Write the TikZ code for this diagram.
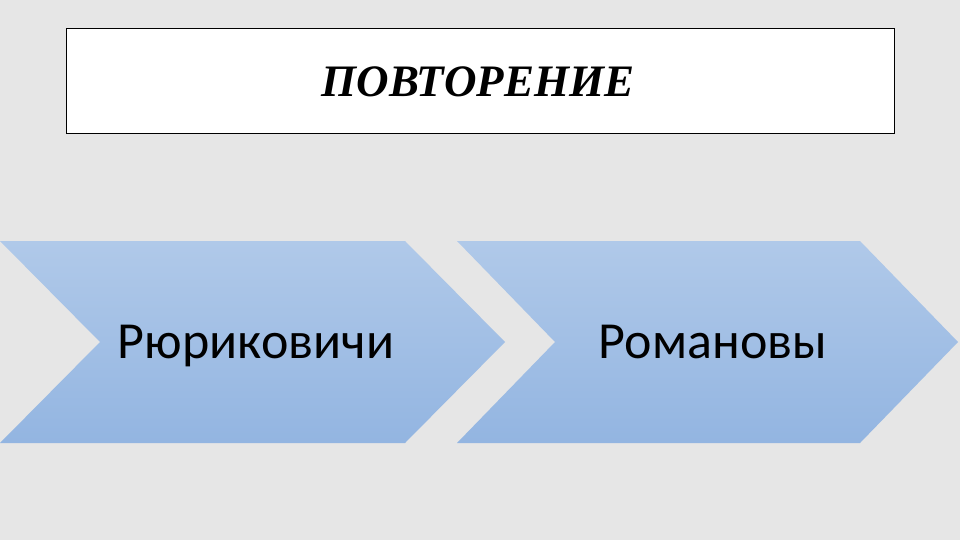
\documentclass[tikz,border=0pt]{standalone}
\usepackage{fontspec}
\setmainfont{Liberation Serif}
\newfontfamily\calib{Carlito}
\definecolor{bg}{HTML}{E6E6E6}
\definecolor{chtop}{HTML}{B0C9E9}
\definecolor{chbot}{HTML}{93B5E1}
\begin{document}
\begin{tikzpicture}[x=1pt,y=-1pt,
  titlebox/.style={draw=black,line width=1.2pt,fill=white},
  chev/.style={top color=chtop,bottom color=chbot,draw=none},
  lbl/.style={font=\calib\fontsize{52}{58}\selectfont,text=black,anchor=base,inner sep=0pt}]
\fill[bg] (0,0) rectangle (960,540);
\useasboundingbox (0,0) rectangle (960,540);
\node[titlebox,minimum width=828pt,minimum height=105pt,inner sep=0pt,anchor=north west] (title) at (66,28) {};
\node[font=\bfseries\itshape\fontsize{45}{50}\selectfont,anchor=base,inner sep=0pt] (titletext) at (478,97) {ПОВТОРЕНИЕ};
\path[chev] (0,241) -- (405,241) -- (505,342) -- (405,443) -- (0,443) -- (100,342) -- cycle;
\path[chev] (457,241) -- (860,241) -- (958,342) -- (860,443) -- (457,443) -- (555,342) -- cycle;
\node[lbl] (a) at (256,358) {Рюриковичи};
\node[lbl] (b) at (713,358) {Романовы};
\end{tikzpicture}
\end{document}
